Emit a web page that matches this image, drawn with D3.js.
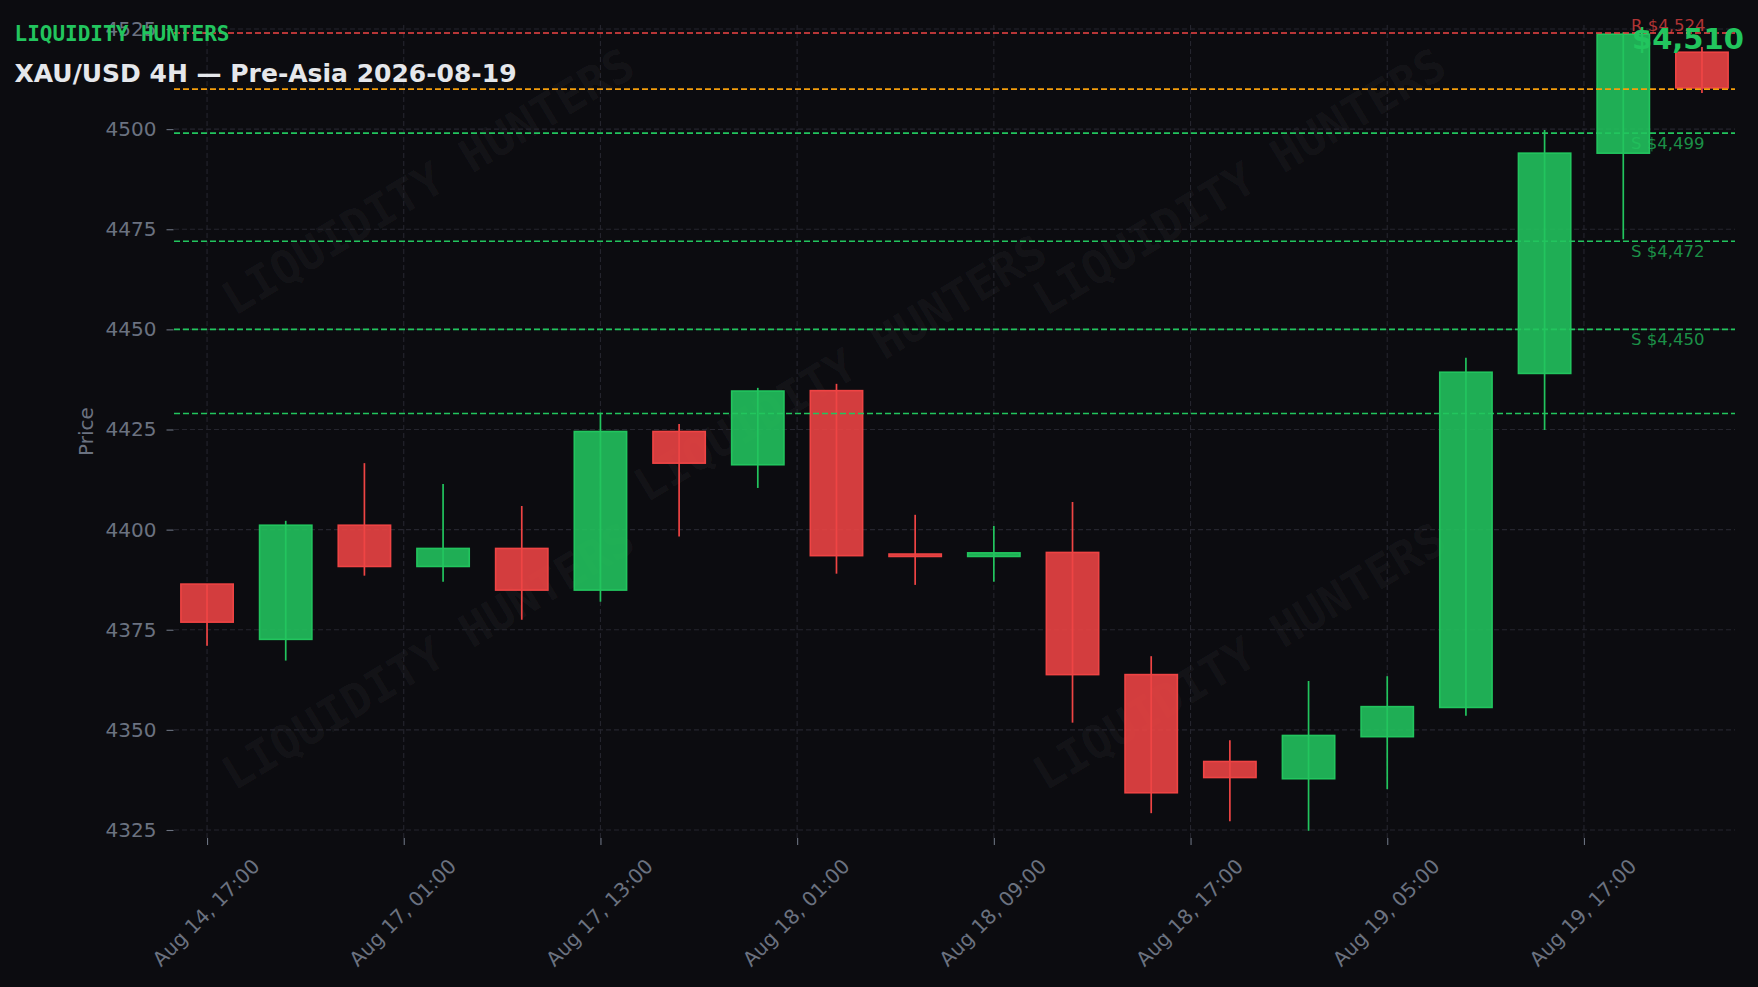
<!DOCTYPE html>
<html>
<head>
<meta charset="utf-8">
<script src="https://cdn.jsdelivr.net/npm/d3@7"></script>
<style>
  html, body { margin: 0; padding: 0; background: #0c0c10; }
  svg { display: block; }
</style>
</head>
<body>
<svg id="chart" width="1758" height="987"></svg>
<script>
// ---------------- DATA ----------------
const opens  = [4386.4, 4372.6, 4401.1, 4390.8, 4395.3, 4384.9, 4424.5, 4416.2, 4434.7, 4393.9, 4393.3, 4394.3, 4363.8, 4342.1, 4337.8, 4348.3, 4355.6, 4439.0, 4494.0, 4519.2];
const highs  = [4386.4, 4402.2, 4416.6, 4411.4, 4405.9, 4429.2, 4426.4, 4435.4, 4436.4, 4403.7, 4400.9, 4406.9, 4368.4, 4347.4, 4362.2, 4363.4, 4442.9, 4499.8, 4524.2, 4520.5];
const lows   = [4371.0, 4367.3, 4388.5, 4387.0, 4377.5, 4382.0, 4398.3, 4410.4, 4389.0, 4386.2, 4387.0, 4351.8, 4329.2, 4327.2, 4324.8, 4335.2, 4353.5, 4424.9, 4472.5, 4509.0];
const closes = [4376.9, 4401.1, 4390.8, 4395.3, 4384.9, 4424.5, 4416.6, 4434.6, 4393.5, 4393.3, 4394.2, 4363.8, 4334.3, 4338.1, 4348.6, 4355.8, 4439.3, 4494.0, 4523.7, 4510.3];

const xTickIndex  = [0, 2.5, 5, 7.5, 10, 12.5, 15, 17.5];
const xTickLabels = ["Aug 14, 17:00", "Aug 17, 01:00", "Aug 17, 13:00", "Aug 18, 01:00", "Aug 18, 09:00", "Aug 18, 17:00", "Aug 19, 05:00", "Aug 19, 17:00"];
const yTicks = [4325, 4350, 4375, 4400, 4425, 4450, 4475, 4500, 4525];

const levelValues = [4524, 4510, 4499, 4472, 4450, 4429];
const levelKinds  = ["R", "P", "S", "S", "S", "S"];
const levelLabels = ["R $4,524", "", "S $4,499", "S $4,472", "S $4,450", ""];

const currentPrice = "$4,510";
const brand = "LIQUIDITY HUNTERS";
const title = "XAU/USD 4H — Pre-Asia 2026-08-19";
const yLabel = "Price";

// ---------------- LAYOUT ----------------
const W = 1758, H = 987;
const plot = { left: 174, right: 1735, top: 25, bottom: 838 };
const BG = "#0c0c10";
const GREEN = "#22c55e", RED = "#ef4444", ORANGE = "#f59e0b";
const TICK = "#6b7280", GRID = "#25252e";
const FONT = "'DejaVu Sans', 'Liberation Sans', sans-serif";
const MONO = "'DejaVu Sans Mono', 'Liberation Mono', monospace";

const svg = d3.select("#chart");
svg.append("rect").attr("width", W).attr("height", H).attr("fill", BG);

const x = d3.scaleLinear().domain([-0.42, opens.length - 1 + 0.42]).range([plot.left, plot.right]);
const y = d3.scaleLinear().domain([4323, 4526]).range([plot.bottom, plot.top]);
const step = x(1) - x(0);

// Watermarks
const wmPos = [[0.2435, 0.184], [0.705, 0.184], [0.478, 0.373], [0.2435, 0.665], [0.705, 0.665]];
svg.append("g").selectAll("text").data(wmPos).join("text")
  .attr("transform", d => `translate(${d[0]*W},${d[1]*H}) rotate(-31)`)
  .attr("text-anchor", "middle").attr("dominant-baseline", "central")
  .attr("font-family", MONO).attr("font-weight", "bold").attr("font-size", 46)
  .attr("fill", "#ffffff").attr("fill-opacity", 0.045)
  .text(brand);

// Grid
const grid = svg.append("g");
grid.selectAll("line.h").data(yTicks).join("line")
  .attr("x1", plot.left).attr("x2", plot.right)
  .attr("y1", d => y(d)).attr("y2", d => y(d))
  .attr("stroke", GRID).attr("stroke-width", 1.1).attr("stroke-dasharray", "5,3");
grid.selectAll("line.v").data(xTickIndex).join("line")
  .attr("x1", d => x(d)).attr("x2", d => x(d))
  .attr("y1", plot.top).attr("y2", plot.bottom)
  .attr("stroke", GRID).attr("stroke-width", 1.1).attr("stroke-dasharray", "5,3");

// Y axis
const yAxis = svg.append("g").attr("transform", `translate(${plot.left - 0.5},0)`)
  .call(d3.axisLeft(y).tickValues(yTicks).tickSize(7).tickPadding(10).tickFormat(d3.format("d")));
yAxis.select(".domain").remove();
yAxis.selectAll(".tick line").attr("stroke", TICK).attr("stroke-width", 1.1);
yAxis.selectAll(".tick text").attr("fill", TICK).attr("font-family", FONT).attr("font-size", 20);

// X axis
const xAxis = svg.append("g").attr("transform", `translate(0,${plot.bottom})`)
  .call(d3.axisBottom(x).tickValues(xTickIndex).tickSize(7).tickFormat(""));
xAxis.select(".domain").remove();
xAxis.selectAll(".tick line").attr("stroke", TICK).attr("stroke-width", 1.1);
svg.append("g").selectAll("text").data(xTickIndex).join("text")
  .attr("transform", d => `translate(${x(d) - 1},${912.5}) rotate(-45)`)
  .attr("text-anchor", "middle").attr("dominant-baseline", "central")
  .attr("font-family", FONT).attr("font-size", 20).attr("fill", TICK)
  .text((d, i) => xTickLabels[i]);

// Y label
svg.append("text")
  .attr("transform", `translate(86,${(plot.top + plot.bottom) / 2}) rotate(-90)`)
  .attr("text-anchor", "middle").attr("dominant-baseline", "central")
  .attr("font-family", FONT).attr("font-size", 20).attr("fill", TICK)
  .text(yLabel);

// Candles
const idx = d3.range(opens.length);
const bw = step * 0.665;
const col = i => closes[i] >= opens[i] ? GREEN : RED;
const cg = svg.append("g");
cg.selectAll("line").data(idx).join("line")
  .attr("x1", i => x(i)).attr("x2", i => x(i))
  .attr("y1", i => y(highs[i])).attr("y2", i => y(lows[i]))
  .attr("stroke", col).attr("stroke-width", 1.7);
cg.selectAll("rect").data(idx).join("rect")
  .attr("x", i => x(i) - bw / 2).attr("width", bw)
  .attr("y", i => y(Math.max(opens[i], closes[i])))
  .attr("height", i => Math.max(Math.abs(y(opens[i]) - y(closes[i])), 1.2))
  .attr("fill", col).attr("fill-opacity", 0.88)
  .attr("stroke", col).attr("stroke-width", 1.6);

// Level lines
const levCol = k => k === "R" ? RED : (k === "P" ? ORANGE : GREEN);
svg.append("g").selectAll("line").data(levelValues).join("line")
  .attr("x1", plot.left).attr("x2", plot.right)
  .attr("y1", d => y(d)).attr("y2", d => y(d))
  .attr("stroke", (d, i) => levCol(levelKinds[i])).attr("stroke-width", 1.6)
  .attr("stroke-dasharray", "6,3");

// Level labels
const labX = 1631;
svg.append("g").selectAll("text").data(levelValues).join("text")
  .attr("x", labX)
  .attr("y", (d, i) => levelKinds[i] === "R" ? y(d) - 2.5 : y(d) + 15.5)
  .attr("font-family", FONT).attr("font-size", 16.5)
  .attr("fill", (d, i) => levCol(levelKinds[i])).attr("fill-opacity", 0.72)
  .text((d, i) => levelLabels[i]);

// Current price
svg.append("text").attr("x", 1632).attr("y", 48.5)
  .attr("font-family", FONT).attr("font-weight", "bold").attr("font-size", 29)
  .attr("fill", GREEN).text(currentPrice);

// Brand & title
svg.append("text").attr("x", 14.5).attr("y", 40.5)
  .attr("font-family", MONO).attr("font-weight", "bold").attr("font-size", 21)
  .attr("fill", GREEN).text(brand);
svg.append("text").attr("x", 14.5).attr("y", 82)
  .attr("font-family", FONT).attr("font-weight", "bold").attr("font-size", 25)
  .attr("fill", "#e5e7eb").text(title);
</script>
</body>
</html>
